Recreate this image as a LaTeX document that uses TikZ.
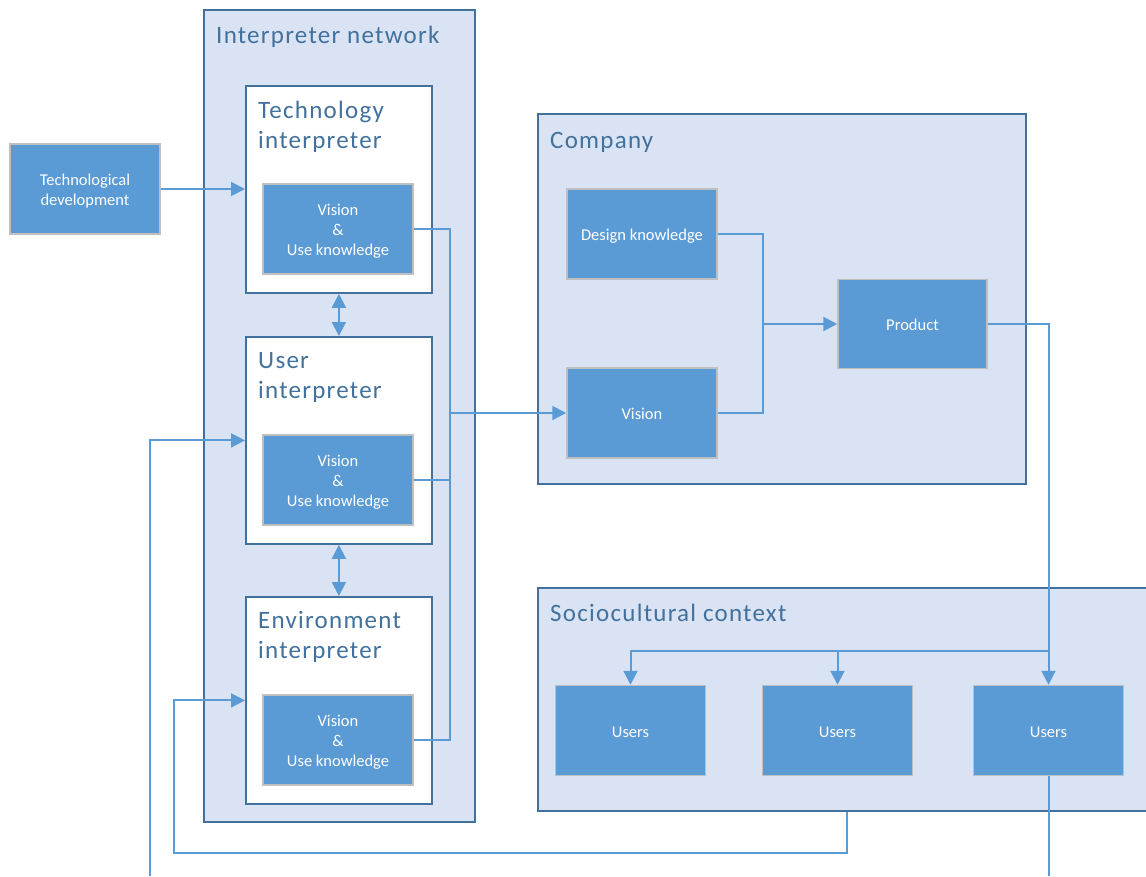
\documentclass[tikz,border=0pt]{standalone}
\usepackage{fontspec}
\setmainfont{Carlito}
\newfontfamily\titlefont[LetterSpace=5]{Carlito}
\usetikzlibrary{arrows.meta,calc}
\definecolor{boxblue}{HTML}{5B9BD5}
\definecolor{boxedge}{HTML}{BFBFBF}
\definecolor{contfill}{HTML}{DAE3F3}
\definecolor{contedge}{HTML}{41719C}
\definecolor{titlecol}{HTML}{41719C}
\newcommand{\bxt}[1]{\raisebox{-2.5pt}[\height][\depth]{\begin{tabular}{@{}c@{}}#1\end{tabular}}}
\tikzset{
  container/.style={draw=contedge, line width=1.8pt, fill=contfill, inner sep=0pt, anchor=north west},
  interp/.style={draw=contedge, line width=1.8pt, fill=white, inner sep=0pt, anchor=north west,
                 minimum width=186pt, minimum height=207pt},
  bluebox/.style={draw=boxedge, line width=1.5pt, fill=boxblue, text=white,
                  minimum width=150pt, minimum height=90pt, inner sep=0pt,
                  font=\fontsize{16.5}{20}\selectfont},
  ttl/.style={anchor=base west, inner sep=0pt, text=titlecol, align=left,
              font=\titlefont\fontsize{25}{30}\selectfont},
  conn/.style={draw=boxblue, line width=2pt},
  arr/.style={conn, -{Triangle[length=14pt,width=14pt]}},
  darr/.style={conn, {Triangle[length=14pt,width=14pt]}-{Triangle[length=14pt,width=14pt]}},
}
\begin{document}
\begin{tikzpicture}[x=1pt,y=-1pt]
\useasboundingbox[fill=white] (0,0) rectangle (1146,876);
% containers
\node[container, minimum width=271pt, minimum height=812pt] (net) at (203,9) {};
\node[ttl] (nettitle) at (216,43) {Interpreter network};
\node[container, minimum width=488pt, minimum height=370pt] (comp) at (537,113) {};
\node[ttl] (comptitle) at (550,148) {Company};
\node[container, minimum width=640pt, minimum height=223pt] (soc) at (537,587) {};
\node[ttl] (soctitle) at (550,621) {Sociocultural context};
% interpreters
\node[interp] (ti) at (245,85) {};
\node[ttl] (tititle) at (258,148) {Technology\\interpreter};
\node[interp] (ui) at (245,336) {};
\node[ttl] (uititle) at (258,398) {User\\interpreter};
\node[interp] (ei) at (245,596) {};
\node[ttl] (eititle) at (258,658) {Environment\\interpreter};
% blue boxes
\node[bluebox] (tv) at (338,229) {\bxt{Vision\\\&\\Use knowledge}};
\node[bluebox] (uv) at (338,480) {\bxt{Vision\\\&\\Use knowledge}};
\node[bluebox] (ev) at (338,740) {\bxt{Vision\\\&\\Use knowledge}};
\node[bluebox] (td) at (85,189) {\bxt{Technological\\development}};
\node[bluebox] (dk) at (642,234) {\bxt{Design knowledge}};
\node[bluebox] (cv) at (642,413) {\bxt{Vision}};
\node[bluebox, minimum width=149pt, minimum height=89pt] (prod) at (912.5,324) {\bxt{Product}};
\node[bluebox] (u1) at (630.5,730.5) {\bxt{Users}};
\node[bluebox] (u2) at (837.5,730.5) {\bxt{Users}};
\node[bluebox] (u3) at (1048.5,730.5) {\bxt{Users}};
% helper coordinates
\coordinate (bus) at (450,0);
\coordinate (cj) at (763,0);
\coordinate (br) at (1048.5,651);
\coordinate (e3) at (1048.5,876);
\coordinate (sbx) at (847,0);
\coordinate (loopA) at (174,853);
\coordinate (uin) at (150,876);
% connectors
\draw[arr] (td.east) -- (td.east -| ti.west);
\draw[darr] (ti.south) -- (ui.north);
\draw[darr] (ui.south) -- (ei.north);
\draw[conn] (tv.east) -- (tv.east -| bus) -- (ev.east -| bus) -- (ev.east);
\draw[conn] (uv.east) -- (uv.east -| bus);
\draw[arr] (cv.west -| bus) -- (cv.west);
\draw[conn] (dk.east) -- (dk.east -| cj) -- (cv.east -| cj) -- (cv.east);
\draw[arr] (prod.west -| cj) -- (prod.west);
\draw[arr] (prod.east) -| (u3.north);
\draw[arr] (br) -| (u1.north);
\draw[arr] (br -| u2.north) -- (u2.north);
\draw[conn] (u3.south) -- (e3);
\draw[arr] (soc.south -| sbx) |- (loopA) |- (ei.west);
\draw[arr] (uin) |- (ui.west);
\end{tikzpicture}
\end{document}
